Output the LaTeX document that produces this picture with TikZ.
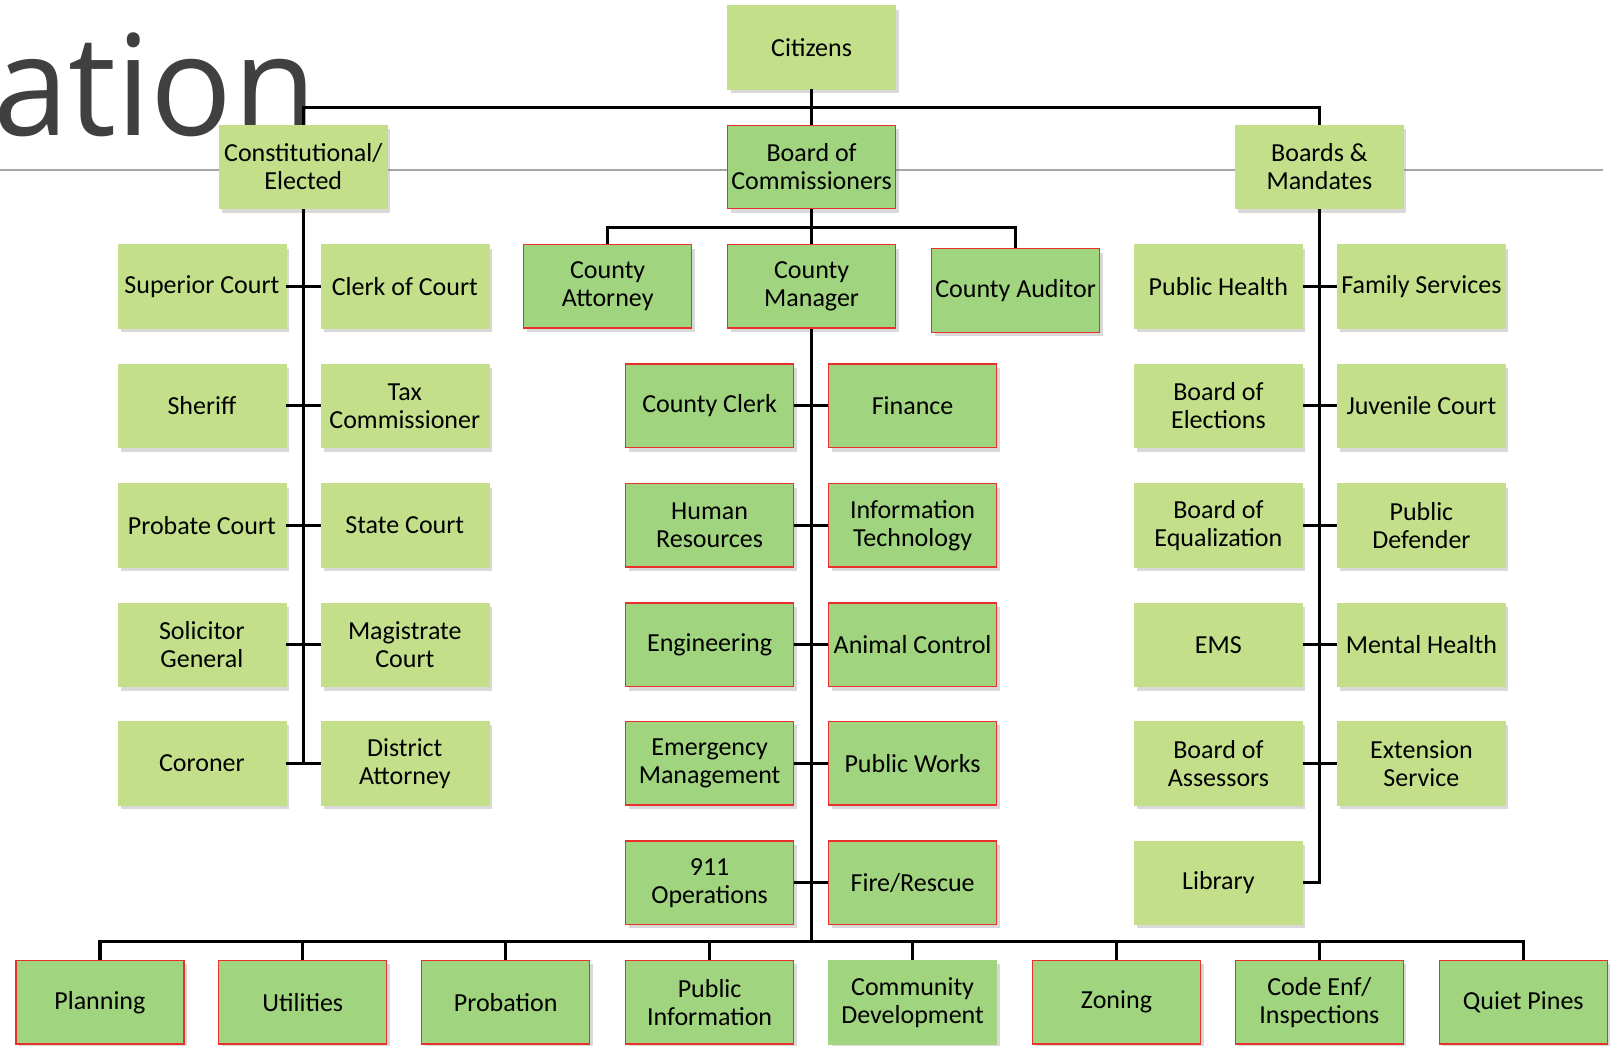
\documentclass[tikz,border=0pt]{standalone}
\usepackage{fontspec}
\setmainfont{Carlito}
\newfontfamily\titlefont{Open Sans}
\usetikzlibrary{shadows}
\definecolor{lightgreen}{HTML}{C3DF8A}
\definecolor{midgreen}{HTML}{A0D47E}
\definecolor{boxred}{HTML}{E8312F}
\definecolor{titlegray}{HTML}{404040}
\definecolor{rulegray}{HTML}{A6A6A6}
\begin{document}
\begin{tikzpicture}[x=1pt,y=-1pt,
    unit/.style={minimum width=168pt,minimum height=83.5pt,inner sep=1pt,align=center,
      font=\fontsize{26}{28}\selectfont,
      drop shadow={shadow xshift=3pt,shadow yshift=-4pt,opacity=0.3}},
    elected/.style={unit,fill=lightgreen,draw=lightgreen},
    managed/.style={unit,fill=midgreen,draw=boxred,line width=1.2pt},
    plainmanaged/.style={unit,fill=midgreen,draw=midgreen},
    link/.style={line width=3.2pt}]
    \useasboundingbox (0,0) rectangle (1615,1045);
    % slide title and rule
    \node[anchor=base west,inner sep=0pt,text=titlegray] (title) at (-7,135)
        {\scalebox{0.97}[1]{\titlefont\fontsize{140}{140}\selectfont ation}};
    \draw[rulegray,line width=1.5pt] (0,170) -- (1603,170);

    % top levels
    \node[elected] (citizens) at (811.6,47.4) {Citizens};
    \node[elected] (elected) at (303.3,166.9) {Constitutional/\\Elected};
    \node[managed] (board) at (811.6,166.9) {Board of\\Commissioners};
    \node[elected] (mandates) at (1319.4,166.9) {Boards \&\\Mandates};
    \node[managed] (attorney) at (607.7,286.3) {County\\Attorney};
    \node[managed] (manager) at (811.6,286.3) {County\\Manager};
    \node[managed] (auditor) at (1015.6,290.5) {County Auditor};

    % constitutional / elected
    \node[elected] (superior) at (201.9,286.3) {Superior Court};
    \node[elected] (clerkcourt) at (404.8,286.3) {Clerk of Court};
    \node[elected] (sheriff) at (201.9,405.8) {Sheriff};
    \node[elected] (taxcomm) at (404.8,405.8) {Tax\\Commissioner};
    \node[elected] (probate) at (201.9,525.3) {Probate Court};
    \node[elected] (statecourt) at (404.8,525.3) {State Court};
    \node[elected] (solicitor) at (201.9,644.8) {Solicitor\\General};
    \node[elected] (magistrate) at (404.8,644.8) {Magistrate\\Court};
    \node[elected] (coroner) at (201.9,763.2) {Coroner};
    \node[elected] (distatty) at (404.8,763.2) {District\\Attorney};

    % county manager departments
    \node[managed] (countyclerk) at (709.6,405.8) {County Clerk};
    \node[managed] (finance) at (912.6,405.8) {Finance};
    \node[managed] (hr) at (709.6,525.3) {Human\\Resources};
    \node[managed] (it) at (912.6,525.3) {Information\\Technology};
    \node[managed] (engineering) at (709.6,644.8) {Engineering};
    \node[managed] (animal) at (912.6,644.8) {Animal Control};
    \node[managed] (emergency) at (709.6,763.2) {Emergency\\Management};
    \node[managed] (pubworks) at (912.6,763.2) {Public Works};
    \node[managed] (ops) at (709.6,882.7) {911\\Operations};
    \node[managed] (fire) at (912.6,882.7) {Fire/Rescue};

    % boards & mandates
    \node[elected] (health) at (1218.4,286.3) {Public Health};
    \node[elected] (family) at (1421.4,286.3) {Family Services};
    \node[elected] (elections) at (1218.4,405.8) {Board of\\Elections};
    \node[elected] (juvenile) at (1421.4,405.8) {Juvenile Court};
    \node[elected] (equal) at (1218.4,525.3) {Board of\\Equalization};
    \node[elected] (defender) at (1421.4,525.3) {Public\\Defender};
    \node[elected] (ems) at (1218.4,644.8) {EMS};
    \node[elected] (mental) at (1421.4,644.8) {Mental Health};
    \node[elected] (assessors) at (1218.4,763.2) {Board of\\Assessors};
    \node[elected] (extension) at (1421.4,763.2) {Extension\\Service};
    \node[elected] (library) at (1218.4,882.7) {Library};

    % bottom row
    \node[managed] (planning) at (99.9,1002.2) {Planning};
    \node[managed] (utilities) at (302.8,1002.2) {Utilities};
    \node[managed] (probation) at (505.7,1002.2) {Probation};
    \node[managed] (pubinfo) at (709.6,1002.2) {Public\\Information};
    \node[plainmanaged] (commdev) at (912.6,1002.2) {Community\\Development};
    \node[managed] (zoning) at (1116.5,1002.2) {Zoning};
    \node[managed] (codeenf) at (1319.4,1002.2) {Code Enf/\\Inspections};
    \node[managed] (quietpines) at (1523.3,1002.2) {Quiet Pines};

    % connectors
    \coordinate (topbus) at (811.6,107.1);
    \coordinate (midbus) at (811.6,227.6);
    \coordinate (botbus) at (811.6,941.4);
    \draw[link] (citizens) -- (board);
    \draw[link] (elected) |- (topbus) -| (mandates);
    \draw[link] (board) -- (manager);
    \draw[link] (attorney) |- (midbus) -| (auditor);
    \draw[link] (elected) -- (elected |- coroner);
    \draw[link] (manager) -- (botbus);
    \draw[link] (mandates) |- (library);
    \foreach \a/\b in {superior/clerkcourt,sheriff/taxcomm,probate/statecourt,
        solicitor/magistrate,coroner/distatty,countyclerk/finance,hr/it,
        engineering/animal,emergency/pubworks,ops/fire,health/family,
        elections/juvenile,equal/defender,ems/mental,assessors/extension}
        \draw[link] (\a) -- (\b);
    \draw[link] (planning) |- (botbus) -| (quietpines);
    \foreach \n in {utilities,probation,pubinfo,commdev,zoning,codeenf}
        \draw[link] (\n) -- (\n |- botbus);
\end{tikzpicture}
\end{document}
